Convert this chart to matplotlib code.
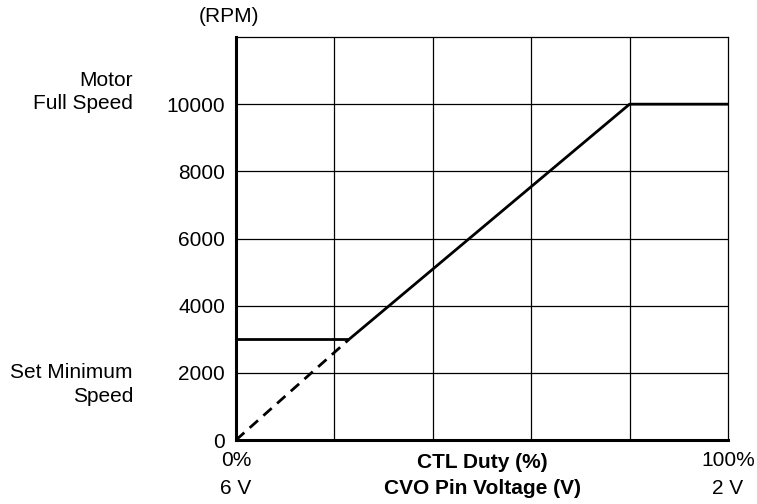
import matplotlib
matplotlib.use("Agg")
import matplotlib.pyplot as plt
import matplotlib.transforms as mtransforms

plt.rcParams['font.family'] = ['Liberation Sans', 'DejaVu Sans']

# Data
duty_solid = [0, 23, 23, 80, 100]         # CTL duty (%)
rpm_solid = [3000, 3000, 3000, 10000, 10000]
duty_dash = [0, 23]
rpm_dash = [0, 3000]
duty_knee = 23
yticks = [0, 2000, 4000, 6000, 8000, 10000]
xgrid = [0, 20, 40, 60, 80, 100]
xtick_vals = [0, 100]
xtick_labels = ["0%", "100%"]
volt_labels = ["6 V", "2 V"]

FS = 15

fig = plt.figure(figsize=(7.57, 5.04), dpi=100)
ax = fig.add_axes([236/757, 64/504, 492/757, 403/504])

ax.set_xlim(0, 100)
ax.set_ylim(0, 12000)

# grid
for x in xgrid[1:-1]:
    ax.axvline(x, color='black', lw=0.9, zorder=1)
for y in yticks[1:]:
    ax.axhline(y, color='black', lw=0.9, zorder=1)

# lines
ax.plot([0, duty_knee], [3000, 3000], color='black', lw=2, solid_capstyle='butt', zorder=3)
ax.plot(duty_solid[2:], rpm_solid[2:], color='black', lw=2, solid_capstyle='butt', zorder=3)
ax.plot(duty_dash, rpm_dash, color='black', lw=2, dashes=(4, 2.6), zorder=3)

for side in ['left', 'bottom']:
    ax.spines[side].set_linewidth(2.2)
for side in ['top', 'right']:
    ax.spines[side].set_linewidth(0.9)

ax.set_yticks(yticks)
ax.set_yticklabels([str(v) for v in yticks], fontsize=FS)
ax.tick_params(axis='y', length=0, pad=8)
ax.set_xticks([])

trans = mtransforms.blended_transform_factory(ax.transData, fig.transFigure)
for xv, lab in zip(xtick_vals, xtick_labels):
    ax.text(xv, 1 - 460/504, lab, transform=trans, ha='center', va='center', fontsize=FS)
for xv, lab in zip(xtick_vals, volt_labels):
    ax.text(xv, 1 - 488/504, lab, transform=trans, ha='center', va='center', fontsize=FS)

ax.text(50, 1 - 462/504, "CTL Duty (%)", transform=trans, ha='center', va='center',
        fontsize=FS, fontweight='bold')
ax.text(50, 1 - 489/504, "CVO Pin Voltage (V)", transform=trans, ha='center', va='center',
        fontsize=FS, fontweight='bold')

fig.text(229/757, 1 - 17/504, "(RPM)", ha='center', va='center', fontsize=FS)

fig.text(133/757, 1 - 80/504, "Motor", ha='right', va='center', fontsize=FS)
fig.text(133/757, 1 - 104/504, "Full Speed", ha='right', va='center', fontsize=FS)
fig.text(133/757, 1 - 373/504, "Set Minimum", ha='right', va='center', fontsize=FS)
fig.text(133/757, 1 - 397/504, "Speed", ha='right', va='center', fontsize=FS)

fig.savefig("out.png", dpi=100)
